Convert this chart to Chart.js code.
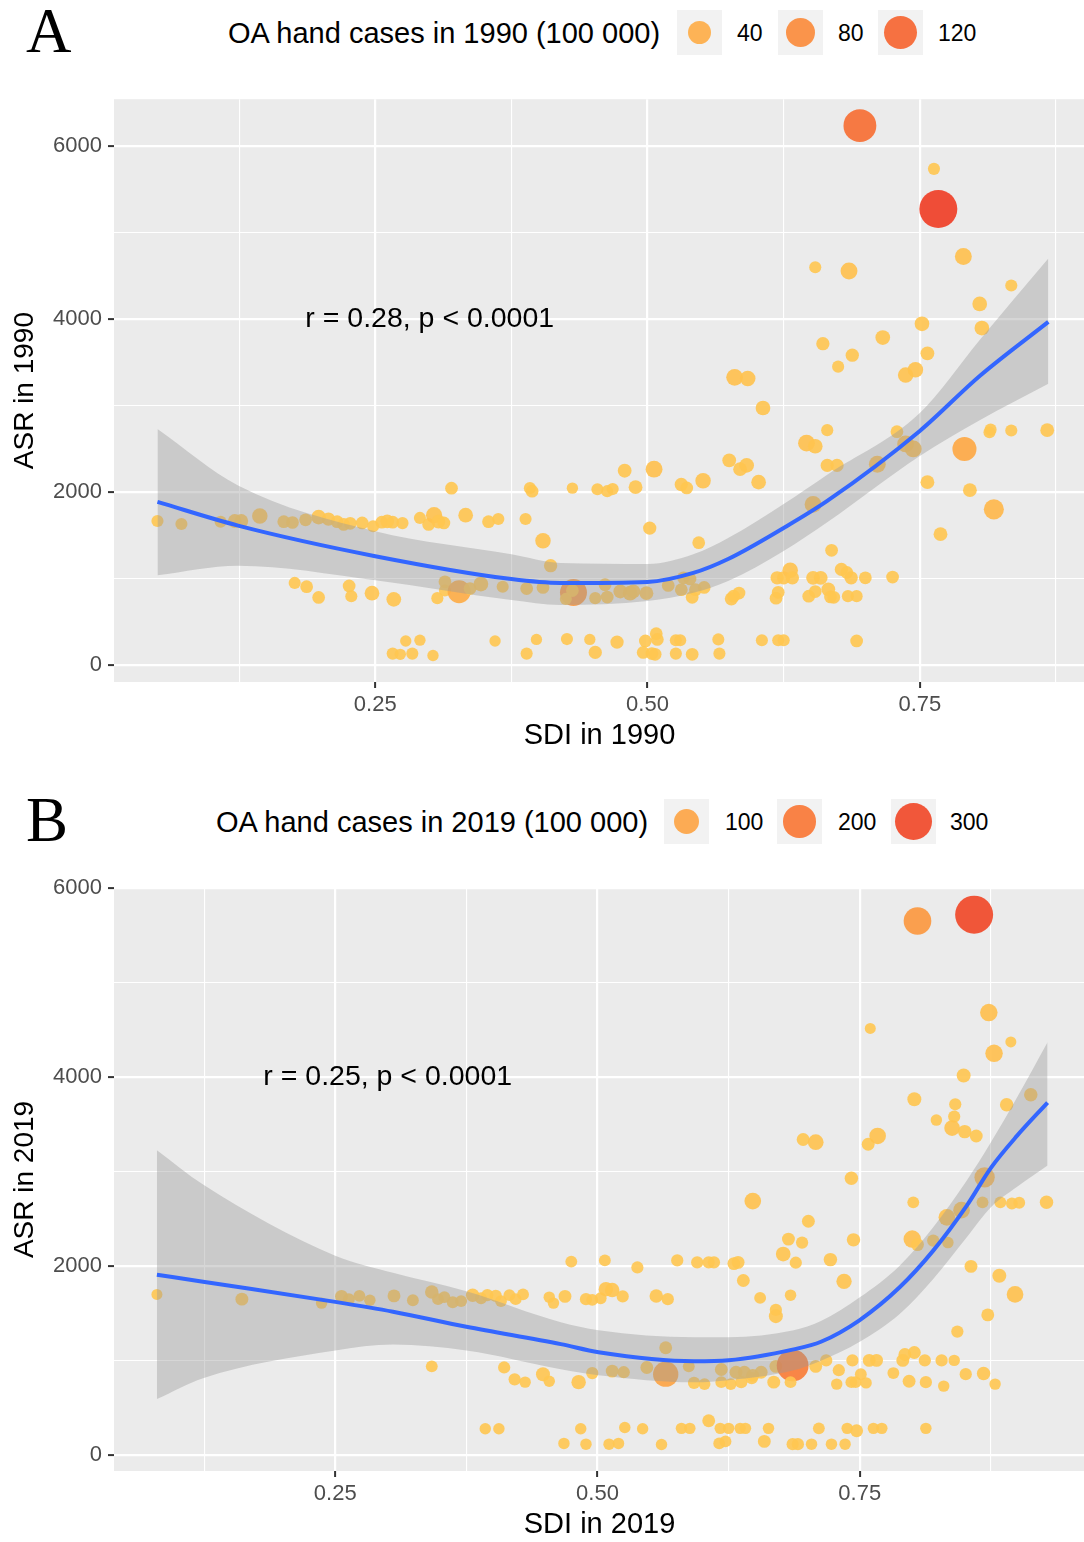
<!DOCTYPE html>
<html>
<head>
<meta charset="utf-8">
<script src="https://cdn.jsdelivr.net/npm/chart.js@4.4.1/dist/chart.umd.min.js"></script>
<style>
body { margin: 0; background: #fff; width: 1084px; height: 1542px; position: relative; overflow: hidden; font-family: "Liberation Sans", Arial, sans-serif; }
.tag { position: absolute; font-family: "Liberation Serif", "Times New Roman", serif; font-size: 63px; line-height: 63px; color: #000; }
.ltitle { position: absolute; font-size: 29px; line-height: 46px; color: #000; white-space: nowrap; }
.key { position: absolute; width: 45px; height: 45px; background: #F2F2F2; }
.key span { position: absolute; border-radius: 50%; }
.klab { position: absolute; font-size: 23px; line-height: 46px; color: #000; }
canvas { position: absolute; left: 0; }
</style>
</head>
<body>
<div class="tag" style="left:26px;top:0px">A</div>
<div class="ltitle" style="left:228px;top:10px">OA hand cases in 1990 (100 000)</div>
<div id="legA"></div>
<canvas id="chartA" width="1104" height="690" style="top:80px"></canvas>

<div class="tag" style="left:26px;top:789px">B</div>
<div class="ltitle" style="left:216px;top:799px">OA hand cases in 2019 (100 000)</div>
<div id="legB"></div>
<canvas id="chartB" width="1104" height="682" style="top:860px"></canvas>

<script>
// ---- 1990 data (SDI, age standardised rate, cases in 100 000) ----
const sdi1990 = [
  0.050,0.072,0.108,0.121,0.127,0.144,0.166,0.174,0.186,0.198,0.207,0.215,
  0.221,0.227,0.238,0.248,0.256,0.261,0.266,0.275,0.291,0.299,0.304,0.308,
  0.313,0.320,0.333,0.354,0.363,0.388,0.392,0.394,0.404,0.411,0.431,0.454,0.463,
  0.176,0.187,0.198,0.226,0.228,0.247,0.267,0.307,0.314,0.314,0.327,0.337,
  0.347,0.367,0.389,0.404,0.432,0.425,0.431,0.452,0.463,0.461,
  0.278,0.291,0.266,0.273,0.284,0.303,0.360,0.389,0.398,0.426,0.447,0.452,
  0.695,0.763,0.767,0.790,0.654,0.685,0.834,0.805,0.807,0.752,0.716,0.661,
  0.688,0.675,0.757,0.737,0.746,0.580,0.592,0.606,0.665,0.646,0.654,0.729,
  0.737,0.744,0.814,0.815,0.834,0.867,0.791,0.711,0.665,0.674,0.575,0.585,
  0.591,0.479,0.506,0.468,0.489,0.531,0.536,0.551,0.602,0.757,0.796,0.818,
  0.652,0.769,0.502,0.547,0.669,0.619,0.625,0.631,0.633,0.652,0.659,0.678,
  0.683,0.687,0.700,0.725,0.533,0.539,0.519,0.531,0.544,0.552,0.541,0.577,
  0.584,0.579,0.618,0.620,0.648,0.654,0.666,0.668,0.671,0.684,0.692,0.475,
  0.484,0.487,0.499,0.472,0.498,0.508,0.509,0.496,0.507,0.504,0.526,0.530,
  0.526,0.541,0.565,0.566,0.605,0.620,0.625,0.692
];
const asr1990 = [
  1664,1629,1656,1664,1664,1722,1656,1647,1678,1709,1687,1656,
  1625,1638,1642,1603,1650,1660,1650,1640,1700,1625,1731,1656,
  1642,2044,1731,1656,1687,1687,2044,2009,1435,1148,2044,2031,2009,
  949,905,781,914,795,830,759,773,962,861,848,883,
  936,905,883,896,839,764,861,773,786,928,
  278,287,132,124,132,110,278,132,296,300,296,146,
  6232,5733,5269,4721,4597,4553,4385,4172,3894,3943,3784,3713,
  3580,3448,3602,3350,3412,3324,3311,2970,2714,2564,2528,2696,
  2555,2497,2690,2720,2710,2714,2497,2320,2307,2307,2365,2263,
  2307,2245,2263,2033,2055,2086,2046,2130,2113,2113,2020,1799,
  1856,1512,1582,1414,1326,1008,1008,1096,1008,1008,1008,1105,
  1070,1008,1008,1017,1008,995,919,871,871,897,782,765,
  831,796,773,840,796,849,875,787,782,796,796,850,
  830,850,830,265,278,362,296,146,124,132,287,287,
  132,124,296,132,287,287,287,278
];
const cases1990 = [
  3,3,3,6,6,10,4,4,4,8,5,4,
  4,4,4,3,4,6,4,3,3,4,12,6,
  4,4,8,4,3,3,3,4,10,5,2,3,3,
  3,4,4,4,3,8,8,3,4,3,40,4,
  8,3,4,4,64,3,4,3,4,4,
  2,2,3,2,3,2,2,3,2,3,2,5,
  110,3,160,14,3,14,3,8,8,8,8,5,
  5,3,6,10,10,14,10,8,3,14,8,4,
  14,14,3,3,3,6,46,14,5,5,6,6,
  8,6,14,3,6,5,4,10,8,6,6,26,
  14,6,5,4,4,5,5,10,5,6,6,5,
  4,5,4,4,4,4,4,4,4,4,4,5,
  4,4,4,4,4,4,6,4,4,3,3,6,
  8,6,6,5,4,4,4,4,4,4,3,3,
  3,4,3,3,3,3,3,4
];
// loess fit and its confidence band
const fitX1990  = [0.050,0.124,0.250,0.375,0.420,0.500,0.542,0.574,0.625,0.665,0.750,0.805,0.868];
const fitY1990  = [1885,1611,1258,993,948,960,1064,1225,1584,1896,2705,3340,3965];
const fitLo1990 = [1038,1148,980,751,694,740,835,971,1318,1650,2416,2829,3249];
const fitHi1990 = [2728,2075,1545,1280,1179,1168,1280,1468,1861,2200,2913,3757,4698];
const legend1990 = [40, 80, 120];

// ---- 2019 data ----
const sdi2019 = [
  0.080,0.161,0.237,0.256,0.263,0.273,0.283,0.306,0.324,0.342,0.348,0.354,
  0.362,0.370,0.381,0.389,0.395,0.403,0.408,0.416,0.422,0.429,0.454,0.458,
  0.469,0.489,0.495,0.503,0.475,0.507,0.508,0.342,0.411,0.421,0.431,0.448,
  0.454,0.482,0.495,0.393,0.406,0.484,0.468,0.489,0.511,
  0.859,0.805,0.760,0.873,0.894,0.878,0.849,0.802,0.841,0.823,0.840,0.838,
  0.850,0.861,0.890,0.913,0.696,0.708,0.758,0.767,0.742,0.648,0.701,0.801,
  0.869,0.867,0.884,0.895,0.902,0.928,0.833,0.847,0.800,0.805,0.820,0.834,
  0.682,0.695,0.677,0.689,0.722,0.744,0.856,0.883,0.898,0.872,0.843,0.735,
  0.514,0.524,0.538,0.556,0.567,0.576,0.595,0.606,0.611,0.630,0.634,0.639,
  0.655,0.684,0.670,0.670,0.565,0.514,0.525,0.547,0.565,0.587,0.592,0.602,
  0.618,0.618,0.627,0.632,0.640,0.648,0.656,0.637,0.647,0.668,0.670,0.686,
  0.684,0.708,0.718,0.730,0.743,0.728,0.742,0.746,0.751,0.756,0.759,0.766,
  0.782,0.793,0.802,0.791,0.797,0.812,0.813,0.828,0.830,0.840,0.851,0.868,
  0.879,0.520,0.526,0.543,0.561,0.580,0.588,0.606,0.617,0.625,0.616,0.622,
  0.636,0.641,0.659,0.663,0.686,0.691,0.704,0.711,0.723,0.736,0.738,0.747,
  0.763,0.771,0.813
];
const asr2019 = [
  1701,1651,1609,1680,1651,1685,1639,1685,1639,1726,1651,1672,
  1618,1630,1693,1660,1693,1685,1630,1693,1651,1701,1672,1609,
  1680,1651,1643,1660,2048,2061,1756,940,928,803,773,857,
  782,773,869,280,280,280,125,117,117,
  5718,5651,4514,4682,4372,4251,4017,3766,3712,3545,3582,3461,
  3423,3377,3708,3812,3340,3311,3290,3377,2930,2688,2475,2675,
  2939,2675,2675,2663,2671,2675,2516,2592,2286,2228,2270,2249,
  2286,2249,2128,2036,2069,2278,1998,1898,1701,1484,1308,1839,
  1747,1680,1986,1685,1651,2061,2040,2040,2040,2027,2040,1848,
  1664,1693,1538,1471,1137,890,878,928,857,940,765,752,
  907,773,752,878,878,844,878,773,815,773,940,949,
  773,940,1003,899,1003,752,773,773,857,765,1003,1003,
  869,1066,1087,1003,782,1003,773,1003,731,1003,857,865,
  752,125,293,280,113,284,284,364,284,284,125,146,
  284,284,146,284,117,117,117,284,117,117,284,259,
  284,284,284
];
const cases2019 = [
  3,8,4,8,5,5,4,8,5,10,5,5,
  5,5,10,5,6,6,5,5,5,5,4,4,
  8,6,5,5,5,5,14,5,6,6,4,12,
  4,14,6,4,4,4,4,4,4,
  300,129,3,30,3,30,12,12,6,4,6,20,
  10,8,10,10,8,20,8,25,10,25,8,5,
  51,5,5,5,5,10,25,25,30,8,6,4,
  8,6,15,6,10,10,8,12,25,8,6,18,
  14,6,6,10,6,6,6,6,6,8,8,8,
  5,4,6,12,8,8,6,8,100,5,6,5,
  8,5,5,8,8,8,8,6,6,8,8,190,
  5,8,6,6,6,4,5,5,5,4,8,8,
  5,8,8,8,8,6,6,6,4,4,6,10,
  4,4,4,4,4,4,4,8,4,4,5,5,
  4,4,8,4,6,6,4,5,4,4,4,8,
  4,4,4
];
const fitX2019  = [0.080,0.124,0.250,0.305,0.375,0.465,0.501,0.592,0.625,0.687,0.713,0.750,0.788,0.820,0.852,0.875,0.900,0.929];
const fitY2019  = [1910,1835,1622,1518,1358,1175,1090,995,1005,1120,1200,1430,1776,2164,2640,3040,3380,3730];
const fitLo2019 = [594,815,1108,1170,1108,910,847,772,794,899,1000,1200,1494,1864,2305,2623,2840,3064];
const fitHi2019 = [3227,2863,2111,1930,1735,1407,1323,1249,1249,1323,1420,1670,2005,2411,2905,3310,3787,4369];
const legend2019 = [100, 200, 300];

const xTicks = [0.125, 0.25, 0.375, 0.5, 0.625, 0.75, 0.875];
const yTicks = [0, 1000, 2000, 3000, 4000, 5000, 6000];

const FONT = '"Liberation Sans", Arial, sans-serif';

function dotDiameter(v, d0, k) {
  return d0 + k * Math.sqrt(v);
}

function dotColor(v, cmax, alpha) {
  const t = Math.min(1, v / cmax);
  const r = Math.round(255 - 17 * t * t);
  const g = Math.round(200 - 145 * Math.pow(t, 1.15));
  const b = Math.round(82 - 48 * Math.pow(t, 0.9));
  return 'rgba(' + r + ',' + g + ',' + b + ',' + alpha + ')';
}

const panelBg = {
  id: 'panelBg',
  beforeDraw(chart) {
    const a = chart.chartArea, c = chart.ctx;
    c.save();
    c.fillStyle = '#EBEBEB';
    c.fillRect(a.left, a.top, a.right - a.left, a.bottom - a.top);
    c.restore();
  }
};

const corrNote = {
  id: 'corrNote',
  afterDatasetsDraw(chart, args, o) {
    const c = chart.ctx;
    c.save();
    c.font = '28.5px ' + FONT;
    c.fillStyle = '#000';
    c.textAlign = 'center';
    c.textBaseline = 'middle';
    c.fillText(o.text, chart.scales.x.getPixelForValue(o.x), chart.scales.y.getPixelForValue(o.y));
    c.restore();
  }
};

function buildLegend(el, breaks, boxX, labX, top, d0, k, cmax) {
  breaks.forEach(function (v, i) {
    const d = dotDiameter(v, d0, k);
    const box = document.createElement('div');
    box.className = 'key';
    box.style.left = boxX[i] + 'px';
    box.style.top = top + 'px';
    const dot = document.createElement('span');
    dot.style.width = d + 'px';
    dot.style.height = d + 'px';
    dot.style.left = (22.5 - d / 2) + 'px';
    dot.style.top = (22.5 - d / 2) + 'px';
    dot.style.background = dotColor(v, cmax, 0.9);
    box.appendChild(dot);
    el.appendChild(box);
    const lab = document.createElement('div');
    lab.className = 'klab';
    lab.style.left = labX[i] + 'px';
    lab.style.top = top + 'px';
    lab.textContent = v;
    el.appendChild(lab);
  });
}

function makePanel(id, p) {
  const pts = p.sdi.map(function (x, i) { return { x: x, y: p.asr[i], c: p.cases[i] }; });
  const fit = p.fitX.map(function (x, i) { return { x: x, y: p.fitY[i] }; });
  const lo = p.fitX.map(function (x, i) { return { x: x, y: p.fitLo[i] }; });
  const hi = p.fitX.map(function (x, i) { return { x: x, y: p.fitHi[i] }; });
  const isMajorX = function (v) { return Math.abs(v * 4 - Math.round(v * 4)) < 1e-6; };
  const isMajorY = function (v) { return v % 2000 === 0; };

  return new Chart(document.getElementById(id), {
    type: 'scatter',
    data: {
      datasets: [
        { type: 'line', data: fit, borderColor: '#3366FF', borderWidth: 4, pointRadius: 0,
          cubicInterpolationMode: 'monotone', fill: false, order: 0 },
        { type: 'line', data: hi, borderColor: 'rgba(0,0,0,0)', borderWidth: 0, pointRadius: 0,
          backgroundColor: 'rgba(153,153,153,0.4)', fill: '+1', cubicInterpolationMode: 'monotone', order: 1 },
        { type: 'line', data: lo, borderColor: 'rgba(0,0,0,0)', borderWidth: 0, pointRadius: 0,
          fill: false, cubicInterpolationMode: 'monotone', order: 1 },
        { type: 'scatter', data: pts, order: 2,
          pointRadius: function (c) { return dotDiameter(c.raw.c, p.d0, p.k) / 2; },
          pointBackgroundColor: function (c) { return dotColor(c.raw.c, p.cmax, 0.9); },
          pointBorderWidth: 0 }
      ]
    },
    options: {
      responsive: false,
      animation: false,
      events: [],
      layout: { padding: { top: p.padTop, left: 0, right: 0, bottom: 0 } },
      plugins: {
        legend: { display: false },
        tooltip: { enabled: false },
        corrNote: { text: p.note, x: 0.3, y: 4000 }
      },
      scales: {
        x: {
          type: 'linear', min: p.xMin, max: p.xMax,
          afterBuildTicks: function (s) { s.ticks = xTicks.map(function (v) { return { value: v }; }); },
          afterFit: function (s) { s.height = p.xHeight; },
          border: { display: false },
          grid: {
            color: '#FFFFFF',
            lineWidth: function (c) { return c.tick && isMajorX(c.tick.value) ? 2.2 : 1.1; },
            tickLength: 6, tickWidth: 2,
            tickColor: function (c) { return c.tick && isMajorX(c.tick.value) ? '#333333' : 'rgba(0,0,0,0)'; }
          },
          ticks: {
            autoSkip: false, maxRotation: 0, padding: 4, color: '#4D4D4D',
            font: { family: FONT, size: 22 },
            callback: function (v) { return isMajorX(v) ? v.toFixed(2) : ''; }
          },
          title: { display: true, text: p.xTitle, color: '#000', font: { family: FONT, size: 29 },
                   padding: { top: 0, bottom: p.xTitlePad } }
        },
        y: {
          type: 'linear', min: p.yMin, max: p.yMax,
          afterBuildTicks: function (s) { s.ticks = yTicks.map(function (v) { return { value: v }; }); },
          afterFit: function (s) { s.width = 114; },
          border: { display: false },
          grid: {
            color: '#FFFFFF',
            lineWidth: function (c) { return c.tick && isMajorY(c.tick.value) ? 2.2 : 1.1; },
            tickLength: 6, tickWidth: 2,
            tickColor: function (c) { return c.tick && isMajorY(c.tick.value) ? '#333333' : 'rgba(0,0,0,0)'; }
          },
          ticks: {
            autoSkip: false, padding: 6, color: '#4D4D4D',
            font: { family: FONT, size: 22 },
            callback: function (v) { return isMajorY(v) ? String(v) : ''; }
          },
          title: { display: true, text: p.yTitle, color: '#000', font: { family: FONT, size: 28 },
                   padding: { top: 8, bottom: 0 } }
        }
      }
    },
    plugins: [panelBg, corrNote]
  });
}

buildLegend(document.getElementById('legA'), legend1990, [677, 778, 878], [737, 838, 938], 10, 8, 2.37, 165);
buildLegend(document.getElementById('legB'), legend2019, [664, 777, 891], [725, 838, 950], 799, 8, 1.73, 330);

makePanel('chartA', {
  sdi: sdi1990, asr: asr1990, cases: cases1990,
  fitX: fitX1990, fitY: fitY1990, fitLo: fitLo1990, fitHi: fitHi1990,
  d0: 8, k: 2.37, cmax: 165,
  xMin: 0.0101, xMax: 0.9017, yMin: -196, yMax: 6538,
  padTop: 18, xHeight: 88, xTitlePad: 17,
  xTitle: 'SDI in 1990', yTitle: 'ASR in 1990', note: 'r = 0.28, p < 0.0001'
});

makePanel('chartB', {
  sdi: sdi2019, asr: asr2019, cases: cases2019,
  fitX: fitX2019, fitY: fitY2019, fitLo: fitLo2019, fitHi: fitHi2019,
  d0: 8, k: 1.73, cmax: 330,
  xMin: 0.0391, xMax: 0.9647, yMin: -167, yMax: 6000,
  padTop: 28, xHeight: 71, xTitlePad: 0,
  xTitle: 'SDI in 2019', yTitle: 'ASR in 2019', note: 'r = 0.25, p < 0.0001'
});
</script>
</body>
</html>
